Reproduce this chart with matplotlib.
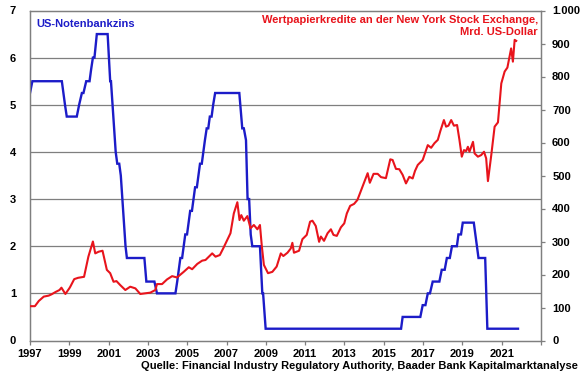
import matplotlib
matplotlib.use("Agg")
import matplotlib.pyplot as plt
from matplotlib.ticker import FuncFormatter

plt.rcParams['font.family'] = ['Liberation Sans', 'DejaVu Sans']
plt.rcParams['font.weight'] = 'bold'

# US-Notenbankzins (%), vertices of the plotted line (decimal year, rate)
fed_year = [1997.00, 1997.12, 1998.62, 1998.70, 1998.78, 1998.87, 1999.38, 1999.50, 1999.64, 1999.72,
            1999.86, 2000.03, 2000.11, 2000.20, 2000.28, 2000.40, 2000.95, 2001.08, 2001.12, 2001.20,
            2001.28, 2001.36, 2001.44, 2001.54, 2001.62, 2001.70, 2001.78, 2001.86, 2001.93, 2002.82,
            2002.92, 2003.33, 2003.46, 2004.40, 2004.49, 2004.57, 2004.65, 2004.74, 2004.82, 2004.90,
            2004.99, 2005.07, 2005.15, 2005.24, 2005.32, 2005.40, 2005.49, 2005.57, 2005.65, 2005.74,
            2005.82, 2005.90, 2005.99, 2006.07, 2006.15, 2006.24, 2006.32, 2006.42, 2007.65, 2007.75,
            2007.80, 2007.88, 2007.99, 2008.07, 2008.15, 2008.23, 2008.31, 2008.70, 2008.82, 2008.86,
            2008.99, 2015.88, 2015.96, 2016.86, 2016.98, 2017.12, 2017.24, 2017.35, 2017.49, 2017.83,
            2017.95, 2018.10, 2018.21, 2018.36, 2018.47, 2018.72, 2018.80, 2018.93, 2019.02, 2019.58,
            2019.82, 2020.16, 2020.27, 2021.83]
fed_rate = [5.25, 5.5, 5.5, 5.25, 5.0, 4.75, 4.75, 5.0, 5.25, 5.25,
            5.5, 5.5, 5.75, 6.0, 6.0, 6.5, 6.5, 5.5, 5.5, 5.0,
            4.5, 4.0, 3.75, 3.75, 3.5, 3.0, 2.5, 2.0, 1.75, 1.75,
            1.25, 1.25, 1.0, 1.0, 1.25, 1.5, 1.75, 1.75, 2.0, 2.25,
            2.25, 2.5, 2.75, 2.75, 3.0, 3.25, 3.25, 3.5, 3.75, 3.75,
            4.0, 4.25, 4.5, 4.5, 4.75, 4.75, 5.0, 5.25, 5.25, 4.75,
            4.5, 4.5, 4.25, 3.0, 3.0, 2.25, 2.0, 2.0, 1.0, 1.0,
            0.25, 0.25, 0.5, 0.5, 0.75, 0.75, 1.0, 1.0, 1.25, 1.25,
            1.5, 1.5, 1.75, 1.75, 2.0, 2.0, 2.25, 2.25, 2.5, 2.5,
            1.75, 1.75, 0.25, 0.25]

# Wertpapierkredite NYSE (Mrd. US-Dollar)
debt_year = [1997.00, 1997.25, 1997.45, 1997.70, 1997.95, 1998.10, 1998.30, 1998.50, 1998.60, 1998.80,
             1999.00, 1999.05, 1999.25, 1999.45, 1999.75, 1999.97, 2000.20, 2000.32, 2000.49, 2000.69,
             2000.91, 2001.08, 2001.25, 2001.40, 2001.59, 2001.85, 2002.10, 2002.36, 2002.61, 2002.87,
             2003.12, 2003.38, 2003.46, 2003.72, 2003.97, 2004.23, 2004.48, 2004.82, 2005.08, 2005.25,
             2005.51, 2005.76, 2005.93, 2006.10, 2006.27, 2006.44, 2006.66, 2006.83, 2007.04, 2007.20,
             2007.37, 2007.55, 2007.66, 2007.75, 2007.88, 2008.06, 2008.22, 2008.39, 2008.57, 2008.70,
             2008.79, 2008.90, 2009.11, 2009.33, 2009.55, 2009.76, 2009.89, 2010.10, 2010.27, 2010.35,
             2010.43, 2010.69, 2010.86, 2011.08, 2011.25, 2011.37, 2011.54, 2011.71, 2011.80, 2011.96,
             2012.14, 2012.31, 2012.44, 2012.61, 2012.82, 2012.99, 2013.12, 2013.29, 2013.49, 2013.66,
             2013.84, 2014.01, 2014.18, 2014.29, 2014.48, 2014.69, 2014.86, 2015.11, 2015.33, 2015.45,
             2015.62, 2015.79, 2015.96, 2016.13, 2016.30, 2016.47, 2016.59, 2016.73, 2016.98, 2017.24,
             2017.41, 2017.58, 2017.75, 2017.88, 2018.06, 2018.17, 2018.29, 2018.43, 2018.57, 2018.73,
             2018.85, 2018.97, 2019.08, 2019.19, 2019.28, 2019.36, 2019.54, 2019.62, 2019.79, 2019.96,
             2020.10, 2020.21, 2020.30, 2020.47, 2020.64, 2020.81, 2020.98, 2021.15, 2021.29, 2021.40,
             2021.48, 2021.57, 2021.66, 2021.74]
debt_value = [104, 104, 120, 133, 136, 140, 147, 153, 160, 141,
              158, 163, 186, 190, 193, 254, 300, 264, 269, 272,
              214, 204, 178, 180, 168, 153, 163, 158, 141, 143,
              145, 153, 171, 171, 185, 195, 191, 208, 222, 216,
              232, 242, 244, 254, 264, 254, 259, 279, 305, 325,
              385, 419, 365, 380, 363, 377, 340, 350, 337, 350,
              289, 229, 204, 208, 224, 264, 256, 266, 279, 296,
              266, 272, 307, 320, 360, 363, 347, 299, 315, 302,
              325, 337, 320, 317, 343, 355, 385, 408, 414, 426,
              454, 481, 507, 478, 505, 505, 495, 492, 549, 547,
              520, 519, 502, 476, 496, 491, 514, 532, 547, 592,
              584, 598, 608, 635, 668, 648, 651, 668, 651, 653,
              608, 557, 577, 574, 587, 572, 602, 567, 557, 562,
              572, 552, 483, 562, 648, 661, 779, 815, 827, 860,
              885, 845, 911, 908]

x_ticks = list(range(1997, 2024, 2))
x_labels = [str(y) if y <= 2021 else "" for y in x_ticks]
left_ticks = [0, 1, 2, 3, 4, 5, 6, 7]
right_ticks = [0, 100, 200, 300, 400, 500, 600, 700, 800, 900, 1000]

BLUE = "#1c1cc8"
RED = "#e8141c"
GRID = "#7f7f7f"

fig = plt.figure(figsize=(5.8, 3.75), dpi=100)
ax = fig.add_axes([30/580, 1-340.5/375, 511/580, 330/375])
ax2 = ax.twinx()

ax.plot(fed_year, fed_rate, color=BLUE, lw=1.7, solid_joinstyle='miter', zorder=3)
ax2.plot(debt_year, debt_value, color=RED, lw=1.5, zorder=3)

ax.set_xlim(1997, 2023)
ax.set_ylim(0, 7)
ax2.set_ylim(0, 1000)

ax.set_yticks(left_ticks)
ax2.set_yticks(right_ticks)
ax.set_xticks(x_ticks)
ax.set_xticklabels(x_labels)
ax2.yaxis.set_major_formatter(FuncFormatter(lambda v, p: f"{int(v):,}".replace(",", ".")))

for y in left_ticks[1:-1]:
    ax.axhline(y, color=GRID, lw=0.9, zorder=1)

for a in (ax, ax2):
    for s in a.spines.values():
        s.set_color(GRID)
        s.set_linewidth(0.9)

ax.tick_params(axis='x', direction='out', length=3, width=0.9, color=GRID, pad=3, labelsize=8)
ax.tick_params(axis='y', direction='out', length=0, pad=10, labelsize=8)
ax2.tick_params(axis='y', direction='out', length=3, width=0.9, color=GRID, pad=5, labelsize=8)
for lab in ax.get_xticklabels() + ax.get_yticklabels() + ax2.get_yticklabels():
    lab.set_fontweight('bold')

ax.text(0.012, 0.975, "US-Notenbankzins", transform=ax.transAxes, color=BLUE,
        fontsize=8, fontweight='bold', ha='left', va='top')
ax.text(0.994, 0.985, "Wertpapierkredite an der New York Stock Exchange,\nMrd. US-Dollar",
        transform=ax.transAxes, color=RED, fontsize=8, fontweight='bold', ha='right', va='top',
        linespacing=1.15)

fig.text(578/580, 1-366/375, "Quelle: Financial Industry Regulatory Authority, Baader Bank Kapitalmarktanalyse",
         ha='right', va='center', fontsize=8, fontweight='bold', color='black')

fig.savefig("out.png", dpi=100)
